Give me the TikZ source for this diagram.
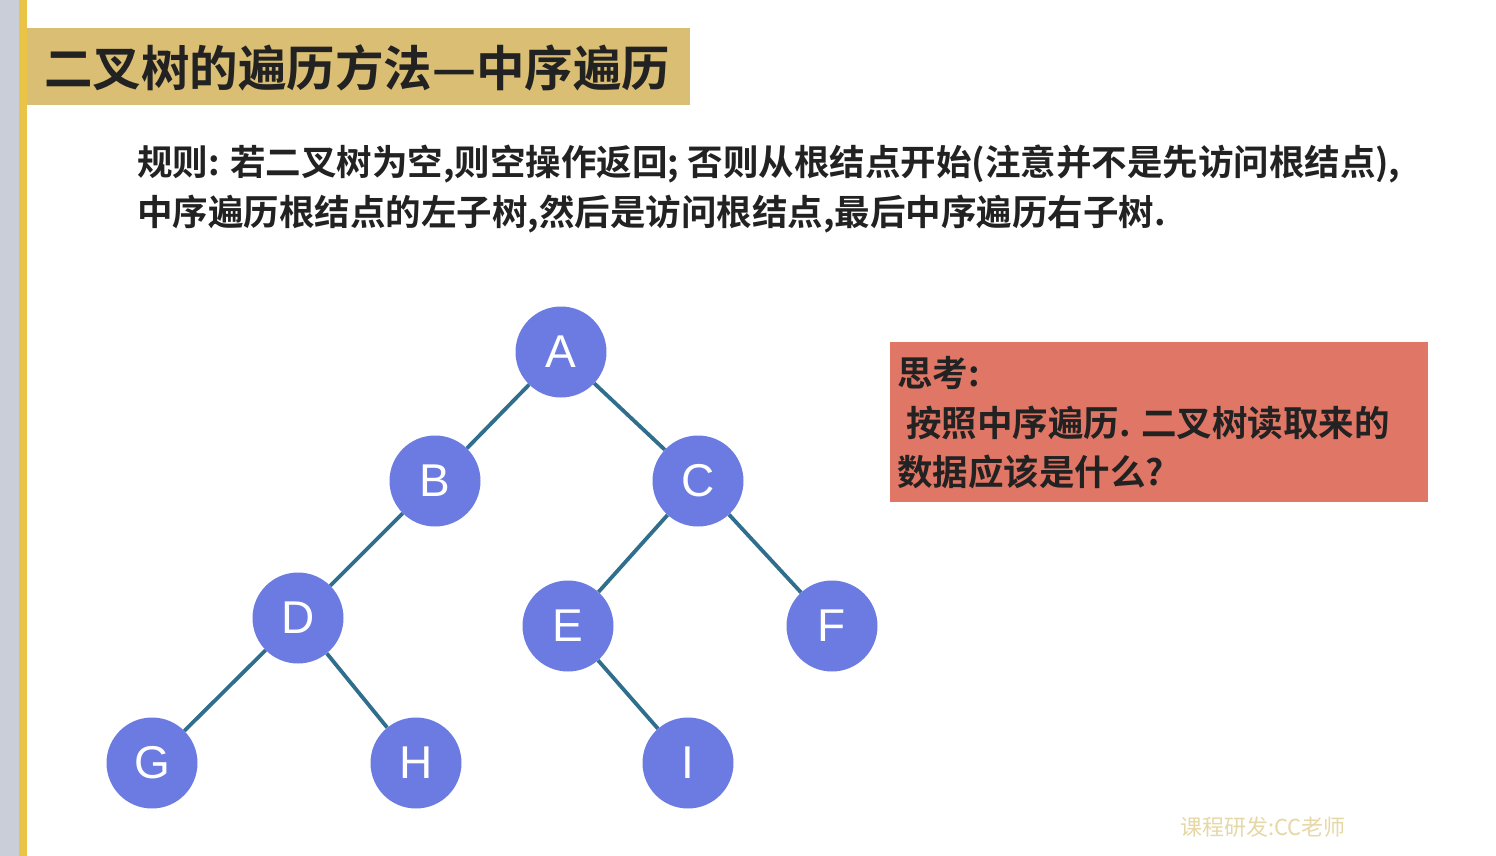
\documentclass[tikz,border=0pt]{standalone}
\usepackage{fontspec}
\setmainfont{Liberation Sans}
\newfontfamily\cjk{Noto Sans CJK SC}[BoldFont={Noto Sans CJK SC Bold}]
\definecolor{nodeblue}{HTML}{6B7BE2}
\definecolor{edgeteal}{HTML}{2F6E8C}
\definecolor{titlegold}{HTML}{D9BE74}
\definecolor{boxred}{HTML}{E07766}
\definecolor{stripgray}{HTML}{C9CED8}
\definecolor{stripyellow}{HTML}{E9C446}
\definecolor{txt}{HTML}{222222}
\definecolor{footer}{HTML}{E6D8A6}
\begin{document}
\begin{tikzpicture}[x=1pt,y=-1pt,
  tnode/.style={circle,fill=nodeblue,minimum size=91pt,inner sep=0pt,text=white,font=\fontsize{46}{46}\selectfont},
  tedge/.style={draw=edgeteal,line width=3.8pt},
  cjktext/.style={anchor=west,inner sep=0pt,text=txt}]
\useasboundingbox (0,0) rectangle (1496,856);
\fill[white] (0,0) rectangle (1496,856);
\fill[stripgray] (0,0) rectangle (19,856);
\fill[stripyellow] (19,0) rectangle (27,856);
% title
\node[fill=titlegold,minimum width=663pt,minimum height=77pt,anchor=north west,inner sep=0pt] (title) at (27,28) {};
\node[cjktext,font=\cjk\bfseries\fontsize{48.5}{48.5}\selectfont] (titletext) at (44,68) {二叉树的遍历方法—中序遍历};
% rule text
\node[cjktext,font=\cjk\bfseries\fontsize{35.5}{35.5}\selectfont] (rule1) at (137,164) {规则: 若二叉树为空,则空操作返回; 否则从根结点开始(注意并不是先访问根结点),};
\node[cjktext,font=\cjk\bfseries\fontsize{35.5}{35.5}\selectfont] (rule2) at (137,214) {中序遍历根结点的左子树,然后是访问根结点,最后中序遍历右子树.};
% think box
\node[fill=boxred,minimum width=538pt,minimum height=160pt,anchor=north west,inner sep=0pt] (think) at (890,342) {};
\node[cjktext,font=\cjk\bfseries\fontsize{35.5}{35.5}\selectfont] (think1) at (897,373) {思考:};
\node[cjktext,font=\cjk\bfseries\fontsize{35.5}{35.5}\selectfont] (think2) at (906,423) {按照中序遍历. 二叉树读取来的};
\node[cjktext,font=\cjk\bfseries\fontsize{35.5}{35.5}\selectfont] (think3) at (897,472) {数据应该是什么?};
% tree
\node[tnode] (A) at (561,352) {A};
\node[tnode] (B) at (435,481) {B};
\node[tnode] (C) at (698,481) {C};
\node[tnode] (D) at (298,618) {D};
\node[tnode] (E) at (568,626) {E};
\node[tnode] (F) at (832,626) {F};
\node[tnode] (G) at (152,763) {G};
\node[tnode] (H) at (416,763) {H};
\node[tnode] (I) at (688,763) {I};
\draw[tedge] (A) -- (B);
\draw[tedge] (A) -- (C);
\draw[tedge] (B) -- (D);
\draw[tedge] (C) -- (E);
\draw[tedge] (C) -- (F);
\draw[tedge] (D) -- (G);
\draw[tedge] (D) -- (H);
\draw[tedge] (E) -- (I);
% footer
\node[cjktext,text=footer,font=\cjk\fontsize{22}{22}\selectfont] (footer) at (1180,827) {课程研发:CC老师};
\end{tikzpicture}
\end{document}
